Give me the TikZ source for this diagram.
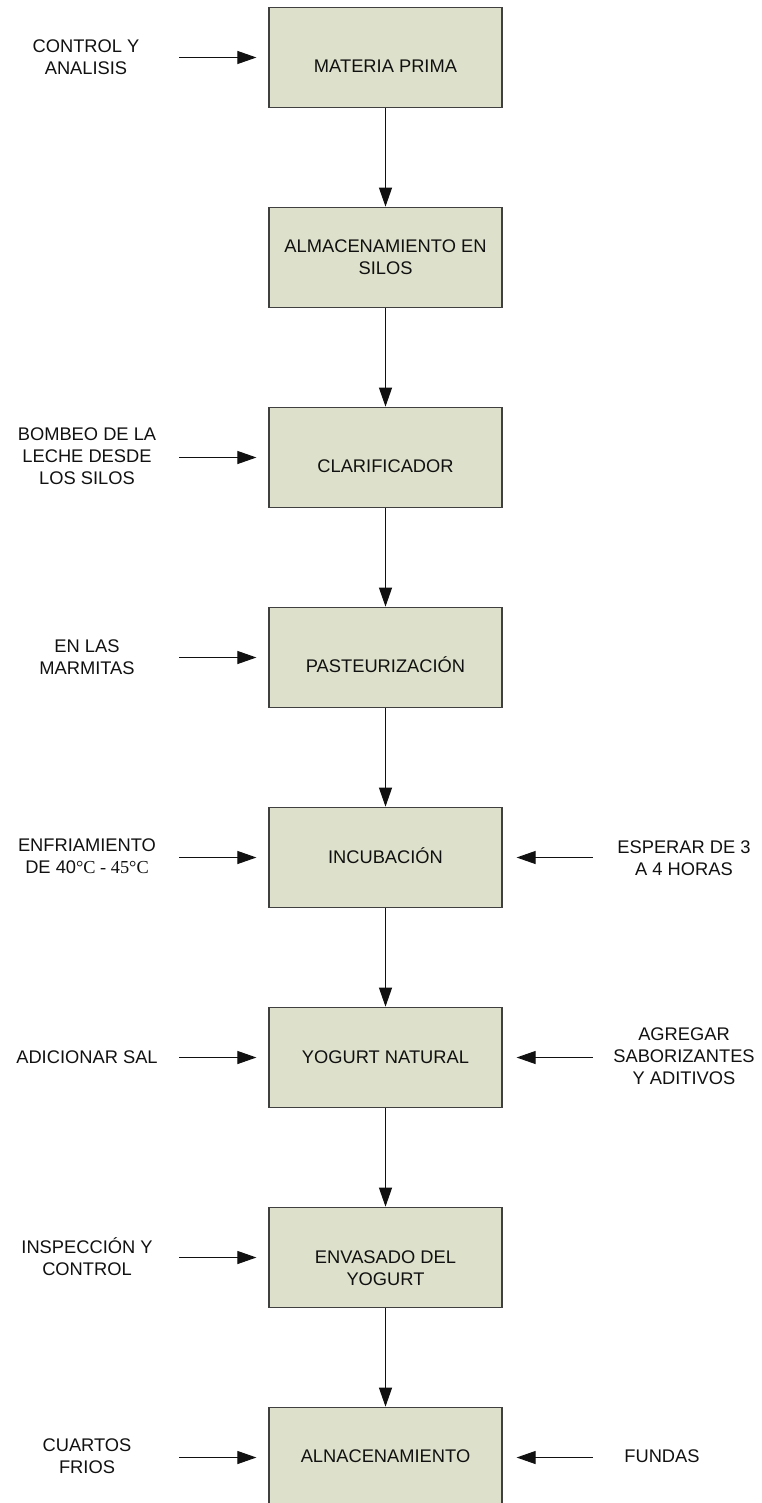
\documentclass[tikz,border=0pt]{standalone}
\usepackage{fontspec}
\setmainfont{Liberation Sans}
\newfontfamily\tmsfont{Liberation Serif}
\usetikzlibrary{arrows.meta}
\definecolor{boxfill}{HTML}{DDE0CA}
\definecolor{boxline}{HTML}{404040}
\definecolor{txt}{HTML}{111111}
\begin{document}
\begin{tikzpicture}[x=1pt,y=-1pt,
  box/.style={draw=boxline, line width=1.2pt, fill=boxfill, minimum width=233pt, minimum height=100.5pt, inner sep=0pt},
  lbl/.style={font=\fontsize{18.3}{22}\selectfont, text=txt, align=center, inner sep=0pt},
  flow/.style={draw=txt, line width=1pt, -{Triangle[length=19pt,width=13pt]}}]
\clip (0,0) rectangle (761,1503);
\fill[white] (0,0) rectangle (761,1503);
% boxes
\node[box] (b1) at (385.5,57.5) {};
\node[box] (b2) at (385.5,257.5) {};
\node[box] (b3) at (385.5,457.5) {};
\node[box] (b4) at (385.5,657.5) {};
\node[box] (b5) at (385.5,857.5) {};
\node[box] (b6) at (385.5,1057.5) {};
\node[box] (b7) at (385.5,1257.5) {};
\node[box] (b8) at (385.5,1457.5) {};
% box texts
\node[lbl] (t1) at (385.5,66.5) {MATERIA PRIMA};
\node[lbl] (t2) at (385.5,257) {ALMACENAMIENTO EN\\SILOS};
\node[lbl] (t3) at (385.5,466.5) {CLARIFICADOR};
\node[lbl] (t4) at (385.5,666) {PASTEURIZACI\smash{Ó}N};
\node[lbl] (t5) at (385.5,857.5) {INCUBACI\smash{Ó}N};
\node[lbl] (t6) at (385.5,1057) {YOGURT NATURAL};
\node[lbl] (t7) at (385.5,1268.5) {ENVASADO DEL\\YOGURT};
\node[lbl] (t8) at (385.5,1456) {ALNACENAMIENTO};
% left labels
\node[lbl] (l1) at (86,57.5) {CONTROL Y\\ANALISIS};
\node[lbl] (l3) at (87,456) {BOMBEO DE LA\\LECHE DESDE\\LOS SILOS};
\node[lbl] (l4) at (87,657.5) {EN LAS\\MARMITAS};
\node[lbl] (l5) at (87,856.5) {ENFRIAMIENTO\\DE 40{\tmsfont °C - 45°C}};
\node[lbl] (l6) at (87,1057) {ADICIONAR SAL};
\node[lbl] (l7) at (87,1258) {INSPECCI\smash{Ó}N Y\\CONTROL};
\node[lbl] (l8) at (87,1456.5) {CUARTOS\\FRIOS};
% right labels
\node[lbl] (r5) at (684,858) {ESPERAR DE 3\\A 4 HORAS};
\node[lbl] (r6) at (684,1056) {AGREGAR\\SABORIZANTES\\Y ADITIVOS};
\node[lbl] (r8) at (662,1456) {FUNDAS};
% arrows
\foreach \i in {1,3,4,5,6,7,8} {
  \path (b\i.west) ++(-89,0) coordinate (a\i);
  \draw[flow, shorten >=12pt] (a\i) -- (b\i.west);
}
\foreach \i in {5,6,8} {
  \path (b\i.east) ++(90,0) coordinate (c\i);
  \draw[flow, shorten >=14pt] (c\i) -- (b\i.east);
}
\foreach \i [evaluate=\i as \j using int(\i+1)] in {1,...,7}
  \draw[flow] (b\i.south) -- (b\j.north);
\end{tikzpicture}
\end{document}
